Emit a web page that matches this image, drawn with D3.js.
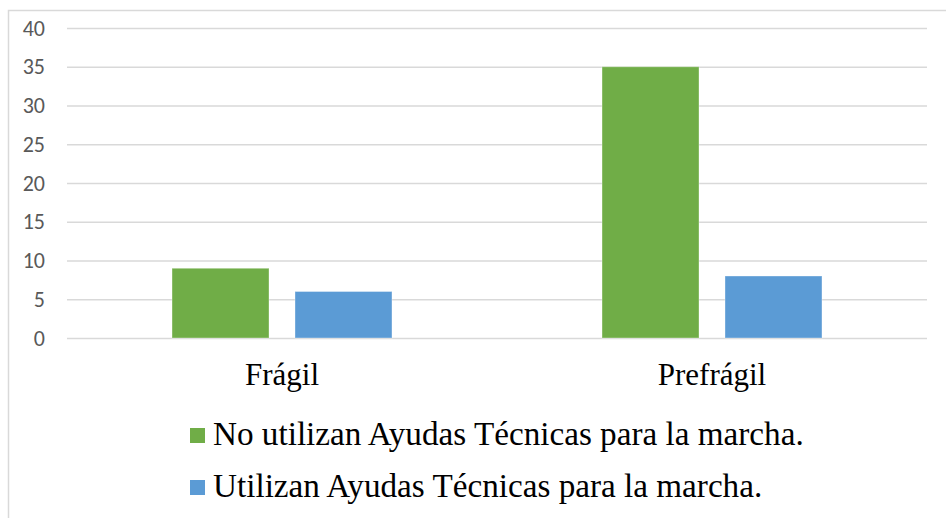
<!DOCTYPE html>
<html>
<head>
<meta charset="utf-8">
<script src="https://cdn.jsdelivr.net/npm/d3@7"></script>
<style>
  html, body { margin: 0; padding: 0; background: #fff; }
  svg { display: block; }
</style>
</head>
<body>
<div id="chart"></div>
<script>
// Datos del gráfico
const categorias = ["Frágil", "Prefrágil"];
const series = ["No utilizan Ayudas Técnicas para la marcha.", "Utilizan Ayudas Técnicas para la marcha."];
const valoresNoUtilizan = [9, 35];
const valoresUtilizan = [6, 8];
const ticksY = [0, 5, 10, 15, 20, 25, 30, 35, 40];
const colores = ["#70AD47", "#5B9BD5"];

function dibujar() {
  const width = 946, height = 518;
  const svg = d3.select("#chart").append("svg")
    .attr("width", width)
    .attr("height", height);

  // marco exterior (se sale por la derecha y abajo)
  svg.append("rect")
    .attr("x", 8.5).attr("y", 10.5)
    .attr("width", 960).attr("height", 540)
    .attr("fill", "none")
    .attr("stroke", "#d9d9d9")
    .attr("stroke-width", 1.5);

  const izq = 67, der = 927, arriba = 28, abajo = 338;

  const x0 = d3.scaleBand().domain(categorias).range([izq, der]);
  const x1 = d3.scaleBand().domain(series).range([0, x0.bandwidth()])
    .paddingInner(0.2114).paddingOuter(0.854);
  const y = d3.scaleLinear().domain([0, 40]).range([abajo, arriba]);

  // eje y con líneas de cuadrícula
  const ejeY = svg.append("g")
    .attr("transform", `translate(${izq},0)`)
    .call(d3.axisLeft(y).tickValues(ticksY).tickSizeInner(-(der - izq)).tickSizeOuter(0).tickPadding(22));
  ejeY.select(".domain").remove();
  ejeY.selectAll(".tick line").attr("stroke", "#d9d9d9").attr("stroke-width", 1.5);
  ejeY.selectAll(".tick text")
    .attr("fill", "#595959")
    .style("font-family", "Carlito, Calibri, 'Open Sans', sans-serif")
    .style("font-size", "22px");

  const datos = categorias.map((c, i) => ({
    categoria: c,
    valores: [valoresNoUtilizan[i], valoresUtilizan[i]]
  }));

  const grupos = svg.selectAll(".grupo")
    .data(datos)
    .enter().append("g")
    .attr("class", "grupo")
    .attr("transform", d => `translate(${x0(d.categoria)},0)`);

  grupos.selectAll("rect")
    .data(d => d.valores.map((v, j) => ({ serie: series[j], valor: v, j: j })))
    .enter().append("rect")
    .attr("x", d => x1(d.serie))
    .attr("y", d => y(d.valor))
    .attr("width", x1.bandwidth())
    .attr("height", d => y(0) - y(d.valor))
    .attr("fill", d => colores[d.j])
    .attr("stroke", "rgba(255,255,255,0.35)")
    .attr("stroke-width", 1);

  // etiquetas de categoría
  svg.selectAll(".cat-label")
    .data(categorias)
    .enter().append("text")
    .attr("class", "cat-label")
    .attr("x", d => x0(d) + x0.bandwidth() / 2)
    .attr("y", 385)
    .attr("text-anchor", "middle")
    .style("font-family", "'Liberation Serif'")
    .style("font-size", "31px")
    .attr("fill", "#000")
    .text(d => d);

  // leyenda
  const leyenda = svg.selectAll(".leyenda")
    .data(series)
    .enter().append("g")
    .attr("class", "leyenda")
    .attr("transform", (d, i) => `translate(190,${428 + i * 52})`);
  leyenda.append("rect")
    .attr("width", 15).attr("height", 15)
    .attr("fill", (d, i) => colores[i]);
  leyenda.append("text")
    .attr("x", 23)
    .attr("y", 17)
    .style("font-family", "'Liberation Serif'")
    .style("font-size", "33.2px")
    .attr("fill", "#000")
    .text(d => d);
}

dibujar();
</script>
</body>
</html>
